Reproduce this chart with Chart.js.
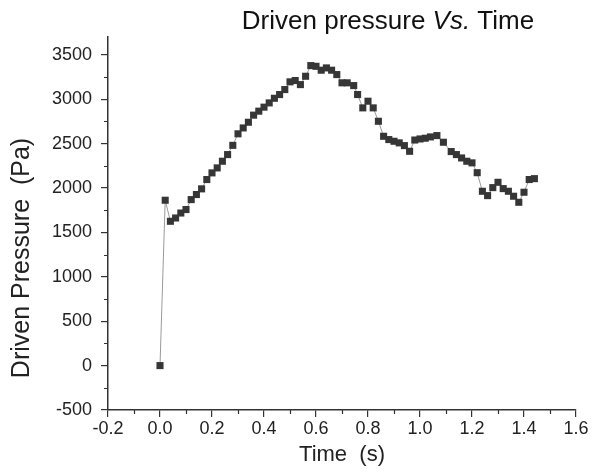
<!DOCTYPE html>
<html>
<head>
<meta charset="utf-8">
<script src="https://cdn.jsdelivr.net/npm/chart.js@4/dist/chart.umd.min.js"></script>
<style>
  html, body { margin: 0; padding: 0; background: #fff; }
  #wrap { position: relative; width: 593px; height: 475px; }
</style>
</head>
<body>
<div id="wrap"><canvas id="pressureChart"></canvas></div>
<script>
// values
const timeValues = [
  0.00, 0.02, 0.04, 0.06, 0.08, 0.10, 0.12, 0.14, 0.16, 0.18,
  0.20, 0.22, 0.24, 0.26, 0.28, 0.30, 0.32, 0.34, 0.36, 0.38,
  0.40, 0.42, 0.44, 0.46, 0.48, 0.50, 0.52, 0.54, 0.56, 0.58,
  0.60, 0.62, 0.64, 0.66, 0.68, 0.70, 0.72, 0.745, 0.76, 0.78,
  0.80, 0.82, 0.84, 0.86, 0.88, 0.90, 0.92, 0.94, 0.96, 0.98,
  1.00, 1.02, 1.04, 1.065, 1.09, 1.12, 1.14, 1.16, 1.18, 1.20,
  1.22, 1.24, 1.26, 1.28, 1.30, 1.32, 1.34, 1.36, 1.38, 1.40,
  1.42, 1.44,
];
const pressureValues = [
  0, 1862, 1625, 1662, 1718, 1757, 1869, 1926, 1990, 2095,
  2170, 2226, 2301, 2376, 2480, 2610, 2676, 2740, 2820, 2865,
  2910, 2958, 3010, 3052, 3108, 3195, 3210, 3164, 3258, 3378,
  3370, 3326, 3352, 3326, 3277, 3184, 3184, 3153, 3052, 2902,
  2977, 2902, 2751, 2582, 2545, 2526, 2508, 2477, 2413, 2540,
  2552, 2560, 2575, 2590, 2515, 2410, 2376, 2338, 2301, 2283,
  2172, 1963, 1914, 2004, 2064, 1993, 1963, 1907, 1839, 1952,
  2095, 2105,
];
const xTicks = [-0.2, 0, 0.2, 0.4, 0.6, 0.8, 1.0, 1.2, 1.4, 1.6];
const xMinorTicks = [-0.1, 0.1, 0.3, 0.5, 0.7, 0.9, 1.1, 1.3, 1.5];
const yTicks = [-500, 0, 500, 1000, 1500, 2000, 2500, 3000, 3500];
const yMinorTicks = [-250, 250, 750, 1250, 1750, 2250, 2750, 3250];

const axisColor = "#333";
const fontFamily = "'Liberation Sans', Arial, sans-serif";

const extrasPlugin = {
  id: "extras",
  afterDraw(chart) {
    const ctx = chart.ctx;
    const xs = chart.scales.x;
    const ys = chart.scales.y;
    const area = chart.chartArea;

    // minor ticks
    ctx.save();
    ctx.strokeStyle = axisColor;
    ctx.lineWidth = 1.2;
    ctx.beginPath();
    xMinorTicks.forEach((v) => {
      const px = Math.round(xs.getPixelForValue(v)) + 0.5;
      ctx.moveTo(px, area.bottom);
      ctx.lineTo(px, area.bottom + 4);
    });
    yMinorTicks.forEach((v) => {
      const py = Math.round(ys.getPixelForValue(v)) + 0.5;
      ctx.moveTo(area.left - 4, py);
      ctx.lineTo(area.left, py);
    });
    ctx.stroke();

    // title with italic "Vs."
    const parts = [
      { text: "Driven pressure ", style: "" },
      { text: "Vs.", style: "italic " },
      { text: " Time", style: "" },
    ];
    const size = 26;
    let total = 0;
    parts.forEach((p) => {
      ctx.font = `${p.style}${size}px ${fontFamily}`;
      p.w = ctx.measureText(p.text).width;
      total += p.w;
    });
    let x = 388 - total / 2;
    ctx.fillStyle = "#111";
    ctx.textBaseline = "alphabetic";
    ctx.textAlign = "left";
    parts.forEach((p) => {
      ctx.font = `${p.style}${size}px ${fontFamily}`;
      ctx.fillText(p.text, x, 29);
      x += p.w;
    });

    // y axis title
    ctx.translate(22, 258);
    ctx.rotate(-Math.PI / 2);
    ctx.font = `25px ${fontFamily}`;
    ctx.textAlign = "center";
    ctx.textBaseline = "middle";
    ctx.fillStyle = "#222";
    ctx.fillText("Driven Pressure  (Pa)", 0, 0);
    ctx.restore();
  },
};

new Chart(document.getElementById("pressureChart"), {
  type: "scatter",
  data: {
    datasets: [
      {
        data: timeValues.map((t, i) => ({ x: t, y: pressureValues[i] })),
        showLine: true,
        borderColor: "#9a9a9a",
        borderWidth: 1,
        pointStyle: "rect",
        pointRadius: 5,
        pointBackgroundColor: "#363636",
        pointBorderColor: "#363636",
        pointBorderWidth: 0,
      },
    ],
  },
  options: {
    responsive: true,
    maintainAspectRatio: false,
    animation: false,
    layout: { padding: { top: 37, right: 17, left: 0, bottom: 3 } },
    plugins: {
      legend: { display: false },
      tooltip: { enabled: false },
    },
    scales: {
      x: {
        type: "linear",
        min: -0.2,
        max: 1.6,
        afterBuildTicks: (scale) => {
          scale.ticks = xTicks.map((v) => ({ value: v }));
        },
        afterFit: (scale) => {
          scale.height = 62;
        },
        ticks: {
          callback: (v) => Number(v).toFixed(1),
          font: { family: fontFamily, size: 18 },
          color: "#222",
          padding: 1,
          maxRotation: 0,
          autoSkip: false,
        },
        grid: {
          drawOnChartArea: false,
          tickLength: 7,
          color: axisColor,
          lineWidth: 1.2,
        },
        border: { color: axisColor, width: 1.5 },
        title: {
          display: true,
          text: "Time  (s)",
          color: "#222",
          font: { family: fontFamily, size: 22 },
          padding: { top: 0 },
        },
      },
      y: {
        min: -500,
        max: 3700,
        afterBuildTicks: (scale) => {
          scale.ticks = yTicks.map((v) => ({ value: v }));
        },
        afterFit: (scale) => {
          scale.width = 108;
        },
        ticks: {
          callback: (v) => String(v),
          font: { family: fontFamily, size: 18 },
          color: "#222",
          padding: 9,
        },
        grid: {
          drawOnChartArea: false,
          tickLength: 7,
          color: axisColor,
          lineWidth: 1.2,
        },
        border: { color: axisColor, width: 1.5 },
      },
    },
  },
  plugins: [extrasPlugin],
});
</script>
</body>
</html>
